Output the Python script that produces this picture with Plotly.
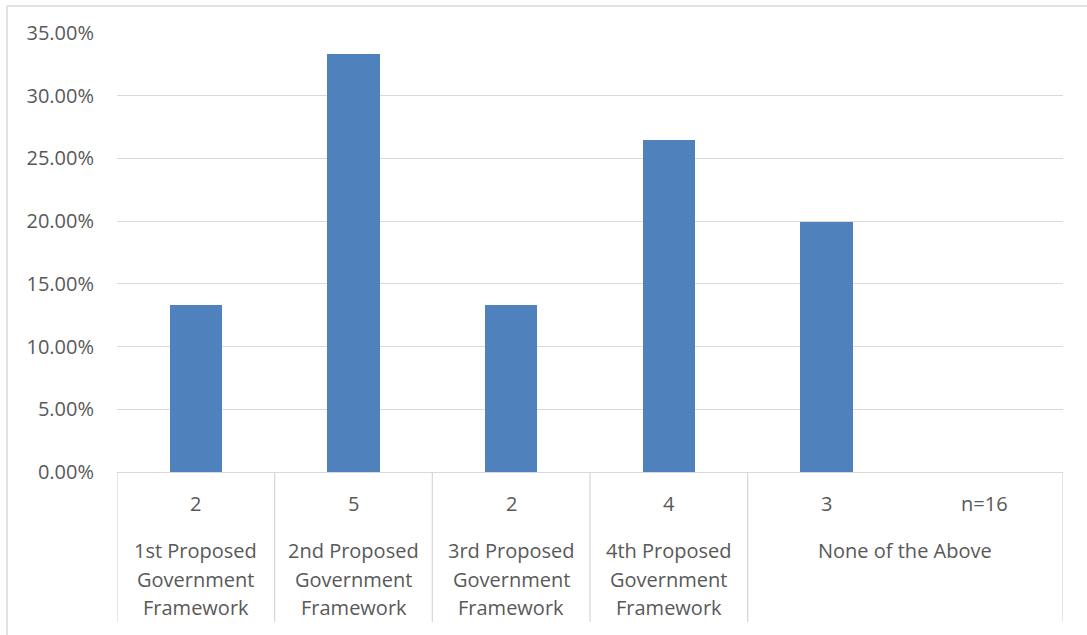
import plotly.graph_objects as go

# ---- data ----
count_labels = ["2", "5", "2", "4", "3", "n=16"]
share_values = [0.1333, 0.3333, 0.1333, 0.2650, 0.1990]
group_labels = [
    ["1st Proposed", "Government", "Framework"],
    ["2nd Proposed", "Government", "Framework"],
    ["3rd Proposed", "Government", "Framework"],
    ["4th Proposed", "Government", "Framework"],
    ["None of the Above"],
]
group_spans = [(0, 0), (1, 1), (2, 2), (3, 3), (4, 5)]
y_ticks = [0, 0.05, 0.10, 0.15, 0.20, 0.25, 0.30, 0.35]

W, H = 1087, 635
L, R, T, B = 117, 24, 33, 163
plot_h = H - T - B
plot_w = W - L - R

TEXT = "#595959"
GRID = "#d9d9d9"
BAR = "#4f81bd"
FONT = "Open Sans"
FS = 20


def py2paper(py):
    return (H - B - py) / plot_h


def px2paper(px):
    return (px - L) / plot_w


fig = go.Figure()
fig.add_trace(go.Bar(
    x=list(range(len(share_values))),
    y=share_values,
    width=0.33,
    marker=dict(color=BAR, line=dict(width=0)),
    hoverinfo="skip",
))

annotations = []
shapes = []

# first row: counts
for i, lab in enumerate(count_labels):
    annotations.append(dict(
        x=i, xref="x", y=py2paper(503), yref="paper", text=lab,
        showarrow=False, xanchor="center", yanchor="middle",
        font=dict(family=FONT, size=FS, color=TEXT),
    ))

# second row: group names, one annotation per line
row_y = [550, 579, 607]
for (a, b), lines in zip(group_spans, group_labels):
    xc = (a + b) / 2
    for k, line in enumerate(lines):
        annotations.append(dict(
            x=xc, xref="x", y=py2paper(row_y[k]), yref="paper", text=line,
            showarrow=False, xanchor="center", yanchor="middle",
            font=dict(family=FONT, size=FS, color=TEXT),
        ))

# axis table separators
sep_positions = [a - 0.5 for a, _ in group_spans] + [group_spans[-1][1] + 0.5]
for xs in sep_positions:
    shapes.append(dict(
        type="line", xref="x", yref="paper",
        x0=xs, x1=xs, y0=py2paper(472), y1=py2paper(622),
        line=dict(color=GRID, width=1.3),
    ))

# outer chart border (top and left edges visible)
shapes.append(dict(type="line", xref="paper", yref="paper",
                   x0=px2paper(7), x1=px2paper(1090), y0=py2paper(6), y1=py2paper(6),
                   line=dict(color=GRID, width=1.5)))
shapes.append(dict(type="line", xref="paper", yref="paper",
                   x0=px2paper(7), x1=px2paper(7), y0=py2paper(6), y1=py2paper(640),
                   line=dict(color=GRID, width=1.5)))

fig.update_layout(
    width=W, height=H,
    margin=dict(l=L, r=R, t=T, b=B),
    paper_bgcolor="white", plot_bgcolor="white",
    showlegend=False,
    bargap=0,
    annotations=annotations,
    shapes=shapes,
    font=dict(family=FONT, size=FS, color=TEXT),
    xaxis=dict(
        range=[-0.5, 5.5], showticklabels=False, showgrid=False,
        zeroline=False, showline=True, linecolor=GRID, linewidth=1.3,
        fixedrange=True,
    ),
    yaxis=dict(
        range=[0, 0.35], tickvals=y_ticks, tickformat=".2%",
        showgrid=True, gridcolor=GRID, gridwidth=1.3,
        zeroline=False, showline=False,
        ticks="", ticklabelstandoff=22,
        tickfont=dict(family=FONT, size=FS, color=TEXT),
        fixedrange=True,
    ),
)

fig.write_html(
    "out.html",
    config={"displayModeBar": False},
    post_script="document.body.style.margin='0';document.body.style.overflow='hidden';",
)
